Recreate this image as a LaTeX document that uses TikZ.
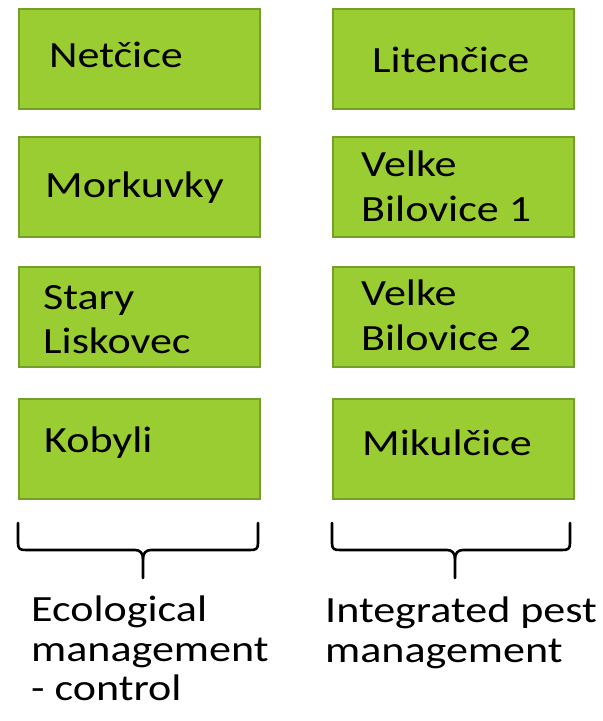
\documentclass[tikz,border=0pt]{standalone}
\usepackage{fontspec}
\setmainfont{Carlito}
\usepackage{graphicx}
\definecolor{boxfill}{HTML}{9ACD32}
\definecolor{boxline}{HTML}{74A02A}
\newcommand{\hs}[1]{\scalebox{1.19}[1]{#1}}
\begin{document}
\begin{tikzpicture}[x=1pt,y=-1pt,
  sitebox/.style={draw=boxline, fill=boxfill, line width=2.2pt, minimum width=241pt, minimum height=100pt, inner sep=0pt, anchor=north west},
  lbl/.style={anchor=base west, inner sep=0pt, font=\fontsize{37}{44}\selectfont},
  bracepath/.style={line width=2.6pt, line cap=round, line join=round}]
\useasboundingbox (0,0) rectangle (603,721);
% boxes
\node[sitebox] (b1) at (18,8) {};
\node[sitebox] (b2) at (18,136) {};
\node[sitebox] (b3) at (18,266) {};
\node[sitebox] (b4) at (18,398) {};
\node[sitebox] (c1) at (332,8) {};
\node[sitebox] (c2) at (332,136) {};
\node[sitebox] (c3) at (332,266) {};
\node[sitebox] (c4) at (332,398) {};
% labels in boxes
\node[lbl] (t1) at (49,67.5) {\hs{Netčice}};
\node[lbl] (t2) at (45,197) {\hs{Morkuvky}};
\node[lbl] (t3a) at (43,309) {\hs{Stary}};
\node[lbl] (t3b) at (43,353) {\hs{Liskovec}};
\node[lbl] (t4) at (44,452) {\hs{Kobyli}};
\node[lbl] (u1) at (372,72) {\hs{Litenčice}};
\node[lbl] (u2a) at (361,176) {\hs{Velke}};
\node[lbl] (u2b) at (361,221) {\hs{Bilovice 1}};
\node[lbl] (u3a) at (361,305) {\hs{Velke}};
\node[lbl] (u3b) at (361,350) {\hs{Bilovice 2}};
\node[lbl] (u4) at (362,455) {\hs{Mikulčice}};
% braces
\coordinate (la) at (18,523);
\coordinate (lb) at (258,523);
\coordinate (lt) at (143,578);
\coordinate (ra) at (332,523);
\coordinate (rb) at (570,523);
\coordinate (rt) at (455,578);
\draw[bracepath] (la) -- (18,543) .. controls (18,549) and (20,550) .. (26,550)
  -- (135,550) .. controls (140,550) and (143,553) .. (143,559) -- (lt);
\draw[bracepath] (lb) -- (258,543) .. controls (258,549) and (256,550) .. (250,550)
  -- (151,550) .. controls (146,550) and (143,553) .. (143,559);
\draw[bracepath] (ra) -- (332,543) .. controls (332,549) and (334,550) .. (340,550)
  -- (447,550) .. controls (452,550) and (455,553) .. (455,559) -- (rt);
\draw[bracepath] (rb) -- (570,543) .. controls (570,549) and (568,550) .. (562,550)
  -- (463,550) .. controls (458,550) and (455,553) .. (455,559);
% group labels
\node[lbl] (g1a) at (31,621) {\hs{Ecological}};
\node[lbl] (g1b) at (31,661) {\hs{management}};
\node[lbl] (g1c) at (31,700) {\hs{- control}};
\node[lbl] (g2a) at (325,622) {\hs{Integrated pest}};
\node[lbl] (g2b) at (325,662) {\hs{management}};
\end{tikzpicture}
\end{document}
